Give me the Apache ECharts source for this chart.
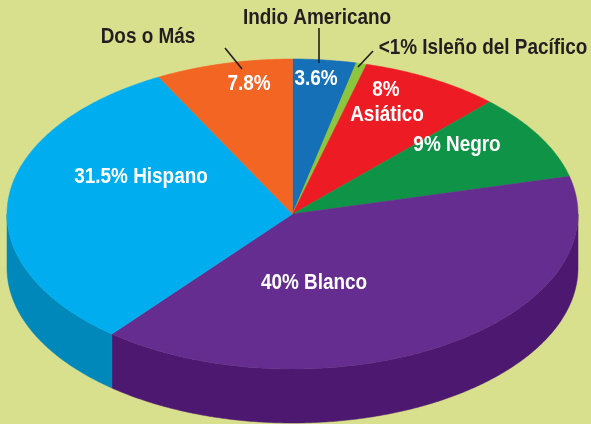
<!DOCTYPE html>
<html>
<head>
<meta charset="utf-8">
<script src="https://cdn.jsdelivr.net/npm/echarts@6/dist/echarts.min.js"></script>
<style>
html,body{margin:0;padding:0;background:#d8df8d;}
#main{width:591px;height:424px;}
</style>
</head>
<body>
<div id="main"></div>
<script>
const names = ['Indio Americano', 'Isleño del Pacífico', 'Asiático', 'Negro', 'Blanco', 'Hispano', 'Dos o Más'];
const values = [3.6, 0.6, 8, 9, 40, 31.5, 7.8];
const topColors = ['#1570b8', '#8cc63f', '#ed1c24', '#0f9447', '#642d8f', '#00aeef', '#f26522'];
const sideColors = ['#0f5a96', '#6fa52f', '#c0141b', '#0a7538', '#4d186f', '#0088bb', '#c9501a'];

// etiquetas
const innerLabels = ['3.6%', '7.8%', '8%', 'Asiático', '9% Negro', '31.5% Hispano', '40% Blanco'];
const outerLabels = ['Indio Americano', 'Dos o Más', '<1% Isleño del Pacífico'];

// geometria del pastel "3D"
const cx = 292.5, cy = 214, rx = 285.5, ry = 155, depth = 54;
const innerPos = [[316, 79], [249, 84], [386, 90], [387, 115], [457, 145], [141, 177], [314, 283]];
const outerPos = [[317, 18], [148, 37], [483, 48]];
const leaders = [[[319, 28], [319, 63]], [[225, 48], [242, 69]], [[373, 51], [358, 67]]];

const total = values.reduce((a, b) => a + b, 0);
const starts = [];
let acc = 0;
values.forEach(v => { starts.push(acc / total * 360); acc += v; });

function pt(t, dy) {
  const r = t * Math.PI / 180;
  return [cx + rx * Math.sin(r), cy - ry * Math.cos(r) + (dy || 0)];
}
function arc(a0, a1, dy) {
  const pts = [];
  const n = Math.max(2, Math.ceil((a1 - a0) / 0.5));
  for (let i = 0; i <= n; i++) pts.push(pt(a0 + (a1 - a0) * i / n, dy));
  return pts;
}

const font = 'bold 22px "Liberation Sans", Arial, sans-serif';
const graphics = [];
function label(t, p, color) {
  graphics.push({
    type: 'text', x: p[0], y: p[1], z: 10, scaleX: 0.86,
    style: { text: t, fill: color, font: font, textAlign: 'center', textVerticalAlign: 'middle', align: 'center', verticalAlign: 'middle' }
  });
}
innerLabels.forEach((t, i) => label(t, innerPos[i], '#ffffff'));
outerLabels.forEach((t, i) => label(t, outerPos[i], '#231f20'));
leaders.forEach(l => {
  graphics.push({
    type: 'line', z: 10,
    shape: { x1: l[0][0], y1: l[0][1], x2: l[1][0], y2: l[1][1] },
    style: { stroke: '#231f20', lineWidth: 1.6 }
  });
});

const chart = echarts.init(document.getElementById('main'));
const option = {
  backgroundColor: '#d8df8d',
  animation: false,
  graphic: graphics,
  series: [{
    type: 'custom',
    coordinateSystem: 'none',
    data: values.map((v, i) => ({ value: v, name: names[i] })),
    renderItem: function (params, api) {
      const i = params.dataIndex;
      const a0 = starts[i];
      const a1 = a0 + api.value(0) / total * 360;
      const children = [];
      const s0 = Math.max(a0, 90), s1 = Math.min(a1, 270);
      if (s1 > s0) {
        const top = arc(s0, s1, 0);
        const bot = arc(s0, s1, depth).reverse();
        children.push({
          type: 'polygon', z2: 1,
          shape: { points: top.concat(bot) },
          style: { fill: sideColors[i], stroke: sideColors[i], lineWidth: 0.5 }
        });
      }
      children.push({
        type: 'polygon', z2: 10,
        shape: { points: [[cx, cy]].concat(arc(a0, a1, 0)) },
        style: { fill: topColors[i], stroke: topColors[i], lineWidth: 0.5 }
      });
      return { type: 'group', children: children };
    }
  }]
};
chart.setOption(option);
</script>
</body>
</html>
